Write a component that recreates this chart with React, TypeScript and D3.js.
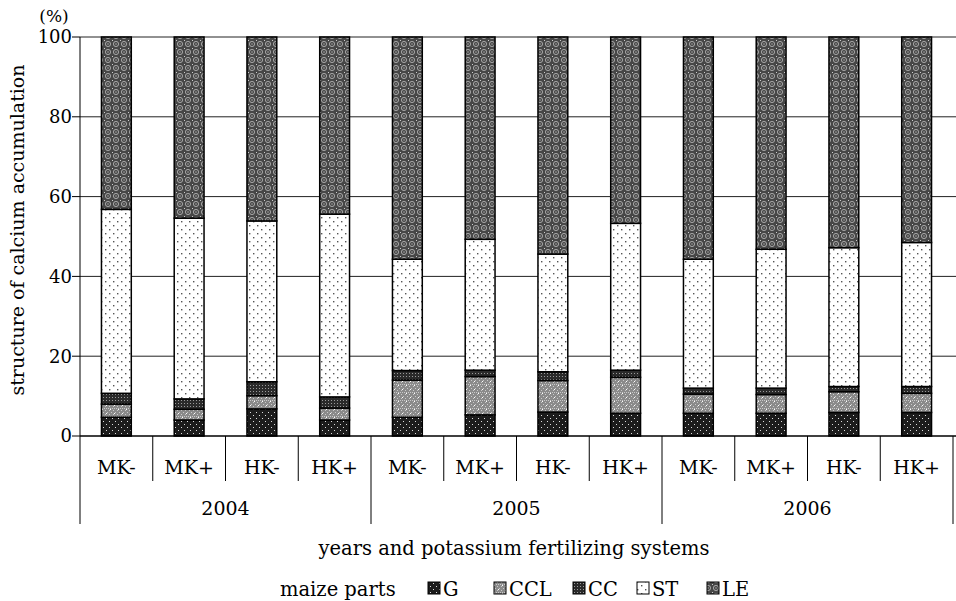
import React from "react";
import * as d3 from "d3";

// maize parts, bottom to top
const parts = ["G", "CCL", "CC", "ST", "LE"];
const years = ["2004", "2005", "2006"];
const systems = ["MK-", "MK+", "HK-", "HK+"];

// share (%) of each part; LE fills up to 100
const G = [4.7, 4.0, 6.8, 4.0, 4.7, 5.3, 6.0, 5.7, 5.7, 5.7, 5.9, 5.9];
const CCL = [3.3, 2.7, 3.3, 3.0, 9.3, 9.6, 7.9, 9.0, 4.8, 4.7, 5.2, 4.8];
const CC = [2.7, 2.6, 3.5, 2.8, 2.4, 1.6, 2.2, 1.8, 1.5, 1.6, 1.3, 1.7];
const ST = [46.1, 45.3, 40.3, 45.8, 27.9, 32.8, 29.5, 36.8, 32.3, 34.8, 34.8, 36.1];
const LE = G.map((g, i) => 100 - g - CCL[i] - CC[i] - ST[i]);

const yTicks = [0, 20, 40, 60, 80, 100];

const W = 956;
const H = 601;
const left = 80;
const right = 953;
const top = 37;
const base = 436;
const font = "'DejaVu Serif', serif";

export default function App() {
  const keys = years.flatMap((yr) => systems.map((s) => `${yr} ${s}`));
  const rows = keys.map((k, i) => ({
    key: k,
    G: G[i],
    CCL: CCL[i],
    CC: CC[i],
    ST: ST[i],
    LE: LE[i],
  }));

  const x = d3.scaleBand().domain(keys).range([left, right]).paddingInner(0.59).paddingOuter(0.295);
  const y = d3.scaleLinear().domain([0, 100]).range([base, top]);
  const stack = d3.stack<any>().keys(parts)(rows);
  const step = x.step();
  const fillOf = (p: string) => `url(#pat-${p})`;

  return (
    <svg width={W} height={H} style={{ position: "absolute", left: 0, top: 0 }}>
      <defs>
        <pattern id="pat-G" width="6" height="6" patternUnits="userSpaceOnUse">
          <rect width="6" height="6" fill="#1c1c1c" />
          <rect x="1" y="1" width="1" height="1" fill="#ddd" />
          <rect x="4" y="4" width="1" height="1" fill="#ddd" />
        </pattern>
        <pattern id="pat-CCL" width="8" height="8" patternUnits="userSpaceOnUse">
          <rect width="8" height="8" fill="#8a8a8a" />
          <path d="M0 0h1v1H0zM2 0h1v1H2zM4 0h1v1H4zM6 0h1v1H6zM1 2h1v1H1zM5 2h1v1H5zM3 4h1v1H3zM7 4h1v1H7zM1 6h1v1H1zM5 6h1v1H5z" fill="#c8c8c8" />
          <rect x="2" y="5" width="1" height="1" fill="#fff" />
          <rect x="6" y="1" width="1" height="1" fill="#fff" />
        </pattern>
        <pattern id="pat-CC" width="3" height="3" patternUnits="userSpaceOnUse">
          <rect width="3" height="3" fill="#2a2a2a" />
          <rect x="1" y="1" width="1" height="1" fill="#9a9a9a" />
        </pattern>
        <pattern id="pat-ST" width="8" height="8" patternUnits="userSpaceOnUse">
          <rect width="8" height="8" fill="#fff" />
          <rect x="1" y="1" width="1.4" height="1.4" fill="#555" />
          <rect x="5" y="5" width="1.4" height="1.4" fill="#555" />
        </pattern>
        <pattern id="pat-LE" width="8" height="8" patternUnits="userSpaceOnUse">
          <rect width="8" height="8" fill="#474747" />
          <circle cx="4" cy="4" r="2.6" fill="none" stroke="#b0b0b0" strokeWidth="0.9" />
          <rect x="3.5" y="3.5" width="1" height="1" fill="#eee" />
          <rect x="0" y="0" width="1" height="1" fill="#ccc" />
        </pattern>
      </defs>

      {/* grid */}
      {yTicks.map((t) => (
        <g key={t}>
          {t > 0 && <line x1={left} x2={W} y1={y(t)} y2={y(t)} stroke="#222" strokeWidth={1} />}
          <line x1={left - 8} x2={left} y1={y(t)} y2={y(t)} stroke="#000" />
          <text x={left - 8} y={y(t)} dy="0.35em" textAnchor="end" fontFamily={font} fontSize={18}>
            {t}
          </text>
        </g>
      ))}
      <text x={54} y={22} textAnchor="middle" fontFamily={font} fontSize={17}>
        (%)
      </text>
      <text
        transform={`translate(24 ${230}) rotate(-90)`}
        textAnchor="middle"
        fontFamily={font}
        fontSize={19}
      >
        structure of calcium accumulation
      </text>

      {/* bars */}
      {stack.map((layer) => (
        <g key={layer.key}>
          {layer.map((d: any) => (
            <rect
              key={d.data.key}
              x={x(d.data.key)}
              y={y(d[1])}
              width={x.bandwidth()}
              height={y(d[0]) - y(d[1])}
              fill={fillOf(layer.key)}
              stroke="#000"
              strokeWidth={1.5}
            />
          ))}
        </g>
      ))}

      {/* axes */}
      <line x1={left} x2={W} y1={base} y2={base} stroke="#000" strokeWidth={1.5} />
      <line x1={left} x2={left} y1={top} y2={524} stroke="#000" strokeWidth={1} />
      {keys.map((k, i) => {
        const xs = left + (i + 1) * step;
        const long = (i + 1) % 4 === 0;
        return (
          <g key={k}>
            <line x1={xs} x2={xs} y1={base} y2={long ? 524 : 481} stroke="#000" strokeWidth={1} />
            <text
              x={(x(k) as number) + x.bandwidth() / 2}
              y={467}
              dy="0.35em"
              textAnchor="middle"
              fontFamily={font}
              fontSize={19}
            >
              {systems[i % 4]}
            </text>
          </g>
        );
      })}
      {years.map((yr, j) => (
        <text
          key={yr}
          x={left + (j * 4 + 2) * step}
          y={508}
          dy="0.35em"
          textAnchor="middle"
          fontFamily={font}
          fontSize={19}
        >
          {yr}
        </text>
      ))}
      <text x={514} y={548} dy="0.35em" textAnchor="middle" fontFamily={font} fontSize={19.5}>
        years and potassium fertilizing systems
      </text>

      {/* legend */}
      <text x={280} y={589} dy="0.35em" fontFamily={font} fontSize={19.5}>
        maize parts
      </text>
      {parts.map((p, i) => {
        const lx = [428, 494, 573, 637, 707][i];
        return (
          <g key={p}>
            <rect x={lx} y={582} width={12} height={12} fill={fillOf(p)} stroke="#000" strokeWidth={1} />
            <text x={lx + 15} y={589} dy="0.35em" fontFamily={font} fontSize={19.5}>
              {p}
            </text>
          </g>
        );
      })}
    </svg>
  );
}
